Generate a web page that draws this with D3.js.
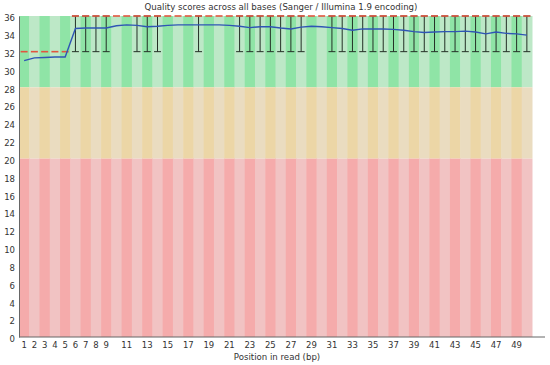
<!DOCTYPE html>
<html>
<head>
<meta charset="utf-8">
<script src="https://cdn.jsdelivr.net/npm/d3@7"></script>
<style>
  body { margin: 0; background: #fff; }
  svg text { font-family: "DejaVu Sans", sans-serif; fill: #333; }
</style>
</head>
<body>
<svg id="chart"></svg>
<script>
(function () {
    const W = 550;
    const H = 365;
    const margin = { top: 16, right: 18, bottom: 28, left: 19 };

    // base positions
    const positions = [1, 2, 3, 4, 5, 6, 7, 8, 9, 10, 11, 12, 13, 14, 15, 16, 17, 18, 19, 20,
        21, 22, 23, 24, 25, 26, 27, 28, 29, 30, 31, 32, 33, 34, 35, 36, 37, 38, 39, 40,
        41, 42, 43, 44, 45, 46, 47, 48, 49, 50];

    // mean quality per position
    const meanQ = [31.0, 31.3, 31.35, 31.4, 31.4, 34.6, 34.65, 34.65, 34.65, 34.9,
        35.0, 34.95, 34.8, 34.85, 34.95, 35.0, 35.0, 35.0, 35.0, 35.0,
        34.95, 34.85, 34.7, 34.8, 34.8, 34.65, 34.55, 34.75, 34.85, 34.8,
        34.7, 34.6, 34.4, 34.55, 34.55, 34.55, 34.5, 34.4, 34.25, 34.15,
        34.2, 34.25, 34.25, 34.3, 34.2, 34.0, 34.2, 34.05, 34.0, 33.85];

    // median per position
    const medianQ = [32, 32, 32, 32, 32, 36, 36, 36, 36, 36,
        36, 36, 36, 36, 36, 36, 36, 36, 36, 36,
        36, 36, 36, 36, 36, 36, 36, 36, 36, 36,
        36, 36, 36, 36, 36, 36, 36, 36, 36, 36,
        36, 36, 36, 36, 36, 36, 36, 36, 36, 36];

    // 10th / 90th percentile
    const lowerQ = [32, 32, 32, 32, 32, 32, 32, 32, 32, 36,
        36, 32, 32, 32, 36, 36, 36, 32, 36, 36,
        36, 32, 32, 32, 32, 32, 32, 32, 36, 36,
        32, 32, 32, 32, 32, 32, 32, 32, 32, 32,
        32, 32, 32, 32, 32, 32, 32, 32, 32, 32];
    const upperQ = [32, 32, 32, 32, 32, 36, 36, 36, 36, 36,
        36, 36, 36, 36, 36, 36, 36, 36, 36, 36,
        36, 36, 36, 36, 36, 36, 36, 36, 36, 36,
        36, 36, 36, 36, 36, 36, 36, 36, 36, 36,
        36, 36, 36, 36, 36, 36, 36, 36, 36, 36];

    const xTickLabels = [1, 2, 3, 4, 5, 6, 7, 8, 9, 11, 13, 15, 17, 19, 21, 23, 25, 27, 29,
        31, 33, 35, 37, 39, 41, 43, 45, 47, 49];
    const yTicks = [0, 2, 4, 6, 8, 10, 12, 14, 16, 18, 20, 22, 24, 26, 28, 30, 32, 34, 36];

    // quality zones: [from, to]
    const zoneBounds = [[28, 36], [20, 28], [0, 20]];
    const zoneColors = [
        ["#8fe4a6", "#bde8c7"],
        ["#ecd6a6", "#eadcc0"],
        ["#f5abab", "#f1c3c3"]
    ];

    const svg = d3.select("#chart")
        .attr("width", W)
        .attr("height", H);

    const x = d3.scaleBand()
        .domain(positions)
        .range([margin.left, 532])
        .padding(0);

    const y = d3.scaleLinear()
        .domain([0, 36])
        .range([H - margin.bottom, margin.top]);

    // striped background
    zoneBounds.forEach((z, zi) => {
        svg.append("g")
            .selectAll("rect")
            .data(positions)
            .enter().append("rect")
            .attr("x", d => x(d))
            .attr("y", y(z[1]))
            .attr("width", x.bandwidth() + 0.5)
            .attr("height", y(z[0]) - y(z[1]))
            .attr("fill", d => zoneColors[zi][d % 2 === 1 ? 0 : 1]);
    });

    const rows = positions.map((p, i) => ({
        pos: p, mean: meanQ[i], median: medianQ[i], lo: lowerQ[i], hi: upperQ[i]
    }));
    const boxW = x.bandwidth() * 0.68;
    const cx = d => x(d.pos) + x.bandwidth() / 2;

    // whiskers
    const wh = svg.append("g")
        .selectAll("g")
        .data(rows.filter(d => d.lo < d.hi))
        .enter().append("g")
        .attr("stroke", "#243026")
        .attr("stroke-width", 1);
    wh.append("line")
        .attr("x1", cx).attr("x2", cx)
        .attr("y1", d => y(d.lo)).attr("y2", d => y(d.hi));
    wh.append("line")
        .attr("x1", d => cx(d) - boxW / 2).attr("x2", d => cx(d) + boxW / 2)
        .attr("y1", d => y(d.lo)).attr("y2", d => y(d.lo));
    wh.append("line")
        .attr("x1", d => cx(d) - boxW / 2).attr("x2", d => cx(d) + boxW / 2)
        .attr("y1", d => y(d.hi)).attr("y2", d => y(d.hi));

    // median marks
    svg.append("g")
        .selectAll("line")
        .data(rows)
        .enter().append("line")
        .attr("x1", d => cx(d) - boxW / 2)
        .attr("x2", d => cx(d) + boxW / 2)
        .attr("y1", d => y(d.median))
        .attr("y2", d => y(d.median))
        .attr("stroke", "#e2553f")
        .attr("stroke-width", 1.6);

    // mean line
    svg.append("path")
        .datum(rows)
        .attr("fill", "none")
        .attr("stroke", "#2f55b5")
        .attr("stroke-width", 1.4)
        .attr("d", d3.line().x(cx).y(d => y(d.mean)));

    // axes
    const yAxis = svg.append("g")
        .attr("transform", `translate(${margin.left},0)`)
        .call(d3.axisLeft(y).tickValues(yTicks).tickSize(0).tickPadding(4));
    yAxis.select(".domain").attr("stroke", "#666");
    yAxis.selectAll("text").attr("font-size", 8.5).attr("dy", "0.55em");

    const xAxis = svg.append("g")
        .attr("transform", `translate(0,${H - margin.bottom})`)
        .call(d3.axisBottom(x).tickValues(xTickLabels).tickSize(0).tickPadding(5));
    xAxis.select(".domain").remove();
    xAxis.selectAll("text").attr("font-size", 8.5);

    svg.append("line")
        .attr("x1", margin.left)
        .attr("x2", W - 5)
        .attr("y1", y(0))
        .attr("y2", y(0))
        .attr("stroke", "#666");

    svg.append("text")
        .attr("x", 281)
        .attr("y", 10)
        .attr("text-anchor", "middle")
        .attr("font-size", 8.6)
        .text("Quality scores across all bases (Sanger / Illumina 1.9 encoding)");

    svg.append("text")
        .attr("x", 277)
        .attr("y", 360)
        .attr("text-anchor", "middle")
        .attr("font-size", 8.6)
        .text("Position in read (bp)");
})();
</script>
</body>
</html>
